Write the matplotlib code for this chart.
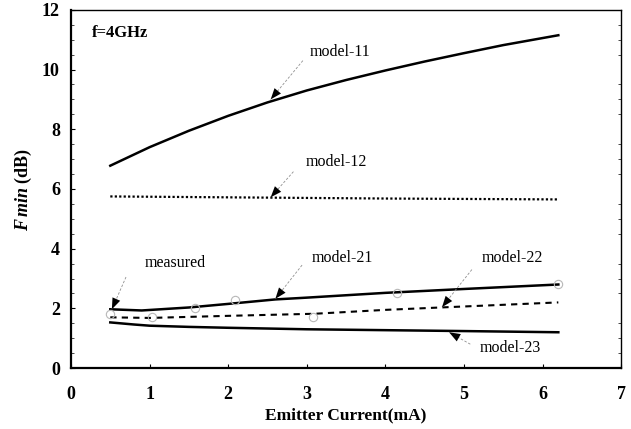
import matplotlib
matplotlib.use("Agg")
import matplotlib.pyplot as plt

plt.rcParams["font.family"] = ["Liberation Serif", "DejaVu Serif"]
plt.rcParams["mathtext.fontset"] = "custom"
plt.rcParams["mathtext.it"] = "Liberation Serif:italic:bold"
plt.rcParams["mathtext.rm"] = "Liberation Serif:bold"

# ── Data ──────────────────────────────────────────────────────────────────────
x_model11 = [0.5, 1.0, 1.5, 2.0, 2.5, 3.0, 3.5, 4.0, 4.5, 5.0, 5.5, 6.2]
y_model11 = [6.78, 7.4, 7.95, 8.45, 8.9, 9.3, 9.65, 9.97, 10.27, 10.55, 10.82, 11.15]

x_model12 = [0.5, 2.0, 4.0, 6.2]
y_model12 = [5.75, 5.72, 5.68, 5.65]

x_model21 = [0.5, 0.9, 1.5, 2.0, 2.6, 3.0, 4.0, 5.0, 6.2]
y_model21 = [1.97, 1.93, 2.03, 2.15, 2.3, 2.36, 2.52, 2.65, 2.8]

x_model22 = [0.5, 1.0, 2.0, 3.1, 4.0, 4.7, 5.5, 6.2]
y_model22 = [1.7, 1.68, 1.75, 1.82, 1.95, 2.03, 2.12, 2.2]

x_model23 = [0.5, 0.8, 1.0, 1.5, 2.0, 3.0, 4.0, 5.0, 6.2]
y_model23 = [1.53, 1.46, 1.42, 1.38, 1.35, 1.3, 1.27, 1.24, 1.2]

x_measured = [0.5, 1.03, 1.58, 2.09, 3.08, 4.15, 6.2]
y_measured = [1.8, 1.7, 2.0, 2.27, 1.7, 2.5, 2.82]

# label text, label position, arrow head, arrow tail
annotations = [
    ("model-11", (3.42, 10.6), (2.54, 9.0), (2.95, 10.3)),
    ("model-12", (3.38, 6.9), (2.54, 5.72), (2.83, 6.58)),
    ("measured", (1.32, 3.52), (0.52, 1.97), (0.7, 3.05)),
    ("model-21", (3.45, 3.69), (2.6, 2.32), (2.94, 3.45)),
    ("model-22", (5.61, 3.69), (4.72, 2.04), (5.1, 3.3)),
    ("model-23", (5.59, 0.67), (4.81, 1.2), (5.08, 0.8)),
]

fig = plt.figure(figsize=(6.31, 4.29), dpi=100)
ax = fig.add_axes([0.1125, 0.142, 0.872, 0.835])

ax.plot(x_model11, y_model11, color="black", lw=1.8)
ax.plot(x_model12, y_model12, color="black", lw=1.6, linestyle=(0, (1, 1)))
ax.plot(x_model21, y_model21, color="black", lw=1.8)
ax.plot(x_model22, y_model22, color="black", lw=1.5, linestyle=(0, (3, 2.5)))
ax.plot(x_model23, y_model23, color="black", lw=1.8)
ax.plot(x_measured, y_measured, linestyle="none", marker="o", ms=6,
        mfc="none", mec="#b8b8b8", mew=0.8)

for label, txt_pos, head, tail in annotations:
    ax.text(txt_pos[0], txt_pos[1], label, ha="center", va="center", fontsize=11.5)
    # thin grey dashed leader line
    ax.plot([tail[0], head[0]], [tail[1], head[1]], color="#909090", lw=0.6,
            linestyle=(0, (3, 2)))
    # solid black arrow head
    near = (head[0] + 0.25 * (tail[0] - head[0]), head[1] + 0.25 * (tail[1] - head[1]))
    ax.annotate("", xy=head, xytext=near,
                arrowprops=dict(arrowstyle="-|>,head_length=0.8,head_width=0.3",
                                color="black", lw=0.01, shrinkA=0, shrinkB=0))

ax.text(0.27, 11.24, "f=4GHz", ha="left", va="center", fontsize=12, fontweight="bold")

ax.set_xlim(0, 7)
ax.set_ylim(0, 12)
ax.set_xticks(range(0, 8))
ax.set_yticks(range(0, 13, 2))
ax.set_yticks([v * 0.5 for v in range(0, 25)], minor=True)
ax.tick_params(axis="both", which="major", direction="in", length=3,
               labelsize=13, pad=8)
ax.tick_params(axis="x", which="major", pad=13)
ax.tick_params(axis="y", which="minor", direction="in", length=2, width=0.5,
               right=True)
for lbl in ax.get_xticklabels() + ax.get_yticklabels():
    lbl.set_fontweight("bold")

for side in ["left", "bottom"]:
    ax.spines[side].set_linewidth(1.6)
for side in ["top", "right"]:
    ax.spines[side].set_linewidth(1.0)

ax.set_xlabel("Emitter Current(mA)", fontsize=12.5, fontweight="bold", labelpad=3)
ax.set_ylabel(r"$F\,min$ (dB)", fontsize=13, fontweight="bold", labelpad=6)

fig.savefig("out.png", dpi=100)
